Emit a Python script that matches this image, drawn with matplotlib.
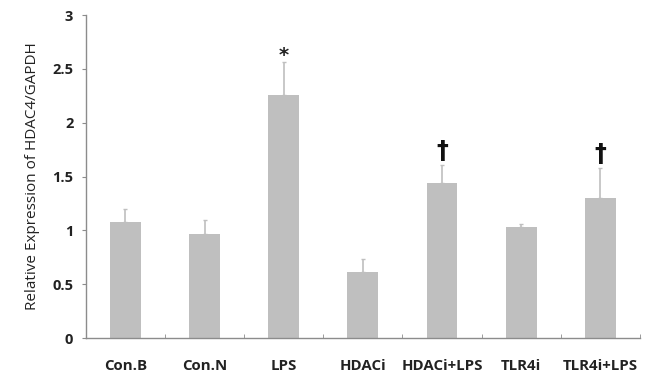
import matplotlib.pyplot as plt
import numpy as np

categories = ['Con.B', 'Con.N', 'LPS', 'HDACi', 'HDACi+LPS', 'TLR4i', 'TLR4i+LPS']
means = [1.08, 0.97, 2.26, 0.61, 1.44, 1.03, 1.30]
errors = [0.12, 0.13, 0.30, 0.12, 0.17, 0.03, 0.28]
marks = ['', '', '*', '', '\u2020', '', '\u2020']

bar_color = '#bfbfbf'
axis_color = '#8c8c8c'
text_color = '#222222'

plt.rcParams['font.family'] = ['Open Sans', 'DejaVu Sans']

fig = plt.figure(figsize=(6.55, 3.76), dpi=100)
ax = fig.add_axes([0.131, 0.101, 0.846, 0.859])

x = np.arange(len(categories))
ax.bar(x, means, width=0.39, color=bar_color, edgecolor='none', zorder=2)
# upward-only error bars
ax.errorbar(x, means, yerr=[np.zeros(len(means)), errors], fmt='none',
            ecolor=bar_color, elinewidth=1.2, capsize=1.5, capthick=1.0, zorder=3)

for xi, m, e, s in zip(x, means, errors, marks):
    if not s:
        continue
    if s == '*':
        ax.text(xi, m + e - 0.02, s, ha='center', va='bottom', fontsize=14,
                fontweight='bold', color=text_color, family='DejaVu Sans')
    else:
        ax.text(xi, m + e + 0.02, s, ha='center', va='bottom', fontsize=17,
                fontweight='bold', color='#111111', family='DejaVu Sans')

ax.set_xlim(-0.5, len(categories) - 0.5)
ax.set_ylim(0, 3)
ax.set_yticks(np.arange(0, 3.01, 0.5))
ax.set_yticklabels(['0', '0.5', '1', '1.5', '2', '2.5', '3'])
ax.set_xticks(x)
ax.set_xticklabels(categories)
ax.set_xticks(np.arange(-0.5, len(categories)), minor=True)

for side in ['top', 'right']:
    ax.spines[side].set_visible(False)
for side in ['left', 'bottom']:
    ax.spines[side].set_color(axis_color)
    ax.spines[side].set_linewidth(1.0)

ax.tick_params(axis='x', which='major', length=0, pad=15, labelsize=10.8, labelcolor=text_color)
ax.tick_params(axis='x', which='minor', length=3, color=axis_color, direction='in')
ax.tick_params(axis='y', length=3, color=axis_color, direction='out', pad=6,
               labelsize=10.5, labelcolor=text_color)
for lbl in ax.get_xticklabels() + ax.get_yticklabels():
    lbl.set_fontweight('bold')

ax.set_ylabel('Relative Expression of HDAC4/GAPDH', fontsize=11, color=text_color, labelpad=9)

fig.savefig('out.png', dpi=100)
